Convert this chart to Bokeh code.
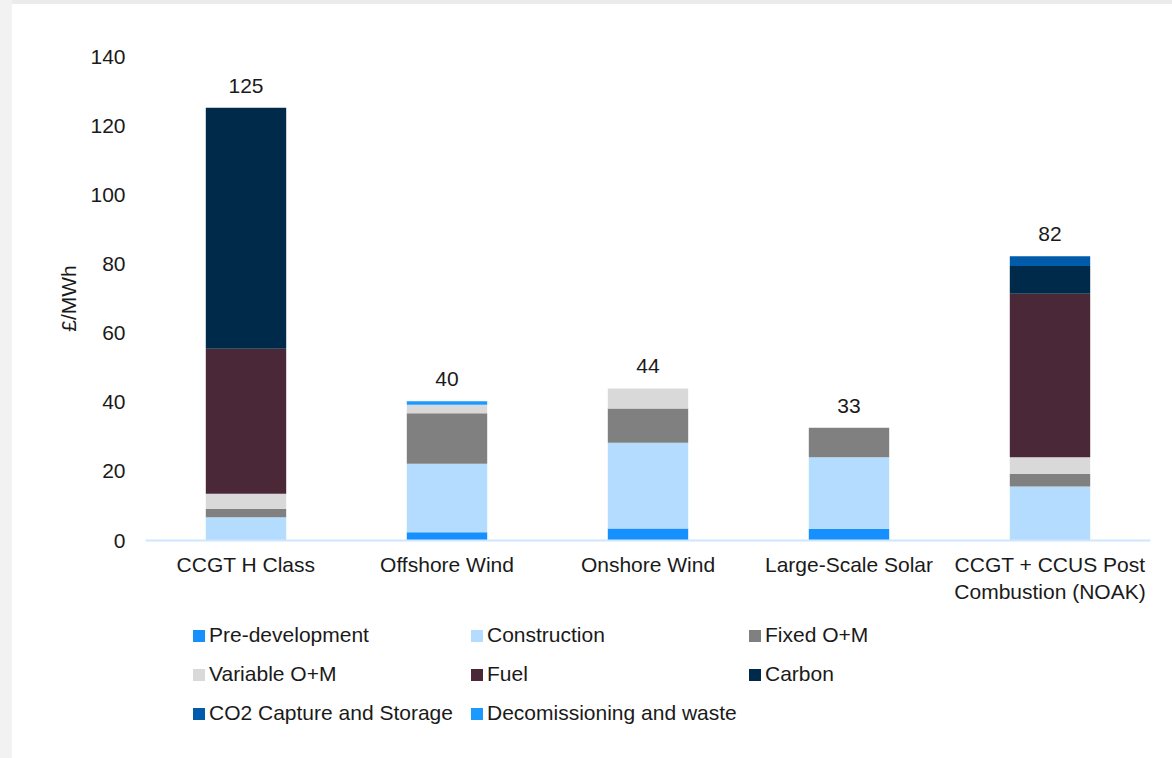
from bokeh.plotting import figure
from bokeh.models import Range1d, FactorRange, Legend, LegendItem, FixedTicker, ColumnDataSource, Spacer
from bokeh.layouts import row, column
from bokeh.core.properties import value
from bokeh.embed import file_html
from bokeh.resources import INLINE

categories = ["CCGT H Class", "Offshore Wind", "Onshore Wind", "Large-Scale Solar",
              "CCGT + CCUS Post\nCombustion (NOAK)"]
pre_development = [0.0, 2.4, 3.5, 3.4, 0.0]
construction = [6.7, 19.8, 24.8, 20.7, 15.6]
fixed_om = [2.5, 14.6, 9.9, 8.5, 3.7]
variable_om = [4.3, 2.5, 5.8, 0.0, 4.8]
fuel = [42.0, 0.0, 0.0, 0.0, 47.3]
carbon = [69.7, 0.0, 0.0, 0.0, 8.0]
co2_capture = [0.0, 0.0, 0.0, 0.0, 2.8]
decommissioning = [0.0, 1.0, 0.0, 0.0, 0.0]
y_ticks = [0, 20, 40, 60, 80, 100, 120, 140]

series_names = ["Pre-development", "Construction", "Fixed O+M", "Variable O+M", "Fuel",
                "Carbon", "CO2 Capture and Storage", "Decomissioning and waste"]
series_values = [pre_development, construction, fixed_om, variable_om, fuel, carbon,
                 co2_capture, decommissioning]
colors = ["#168FFF", "#B3DCFF", "#808080", "#D9D9D9", "#4A2838", "#002A4A", "#005BAA", "#1A9AFF"]
keys = ["s%d" % i for i in range(len(series_names))]

data = {"cat": categories}
for k, v in zip(keys, series_values):
    data[k] = v
totals = [sum(v[i] for v in series_values) for i in range(len(categories))]
data["total"] = totals
data["total_label"] = [str(int(round(t))) for t in totals]
src = ColumnDataSource(data)

FONT = "Liberation Sans"
TXT = "#1A1A1A"

# main chart (page y 4..610)
p = figure(x_range=FactorRange(*categories, range_padding=0), y_range=Range1d(0, 140),
           width=1160, height=606, output_backend="svg", toolbar_location=None,
           min_border_left=133, min_border_right=22, min_border_top=52, min_border_bottom=70)
p.outline_line_color = None
p.xgrid.visible = False
p.ygrid.visible = False

p.vbar_stack(keys, x="cat", width=0.4, source=src, color=colors, line_color=None)

p.text(x="cat", y="total", text="total_label", source=src, y_offset=-15,
       text_align="center", text_baseline="bottom", text_font=value(FONT),
       text_font_size="21px", text_color=TXT)

ya = p.yaxis[0]
ya.ticker = FixedTicker(ticks=y_ticks)
ya.axis_line_color = None
ya.major_tick_line_color = None
ya.minor_tick_line_color = None
ya.major_label_text_font = FONT
ya.major_label_text_font_size = "21px"
ya.major_label_text_color = TXT
ya.major_label_standoff = 14
ya.axis_label = "£/MWh"
ya.axis_label_text_font = FONT
ya.axis_label_text_font_size = "21px"
ya.axis_label_text_font_style = "normal"
ya.axis_label_text_color = TXT
ya.axis_label_standoff = 7

xa = p.xaxis[0]
xa.axis_line_color = "#CFE6FF"
xa.axis_line_width = 2
xa.major_tick_line_color = None
xa.minor_tick_line_color = None
xa.major_label_text_font = FONT
xa.major_label_text_font_size = "21px"
xa.major_label_text_color = TXT
xa.major_label_standoff = 6

# legend panel (page y 610..758); frame is aligned with the chart frame by the layout
lg = figure(width=1160, height=148, output_backend="svg", toolbar_location=None,
            x_range=FactorRange(*categories, range_padding=0), y_range=Range1d(0, 140),
            min_border_left=133, min_border_right=22, min_border_top=0, min_border_bottom=0)
lg.axis.visible = False
lg.grid.visible = False
lg.outline_line_color = None
swatches = lg.vbar_stack(keys, x="cat", width=0.4, source=src, color=colors, line_color=None)
for r in swatches:
    r.visible = False

columns = [[0, 3, 6], [1, 4, 7], [2, 5]]
col_x = [46, 324, 602]
col_vy = [33, 33, 72]
for ci, idxs in enumerate(columns):
    items = [LegendItem(label=series_names[i], renderers=[swatches[i]]) for i in idxs]
    leg = Legend(items=items, location=(col_x[ci], col_vy[ci]), orientation="vertical",
                 border_line_color=None, background_fill_alpha=0, padding=0, margin=0,
                 spacing=15, label_height=20, glyph_width=15, glyph_height=15,
                 label_standoff=3, label_text_font=FONT, label_text_font_size="21px",
                 label_text_color=TXT, label_text_baseline="middle",
                 inactive_fill_alpha=0)
    lg.add_layout(leg, "center")

left_strip = Spacer(width=12, height=758, styles={"background-color": "#F2F2F2"})
top_strip = Spacer(width=1160, height=4, styles={"background-color": "#EBEBEB"})
layout = row(left_strip, column(top_strip, p, lg, spacing=0), spacing=0)

open("out.html", "w").write(file_html(layout, INLINE))
